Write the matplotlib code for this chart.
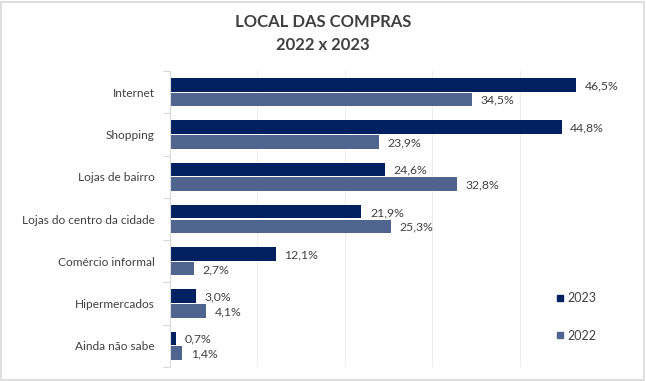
import matplotlib
matplotlib.use("Agg")
import matplotlib.pyplot as plt
from matplotlib.lines import Line2D
from matplotlib.patches import Rectangle
import numpy as np

plt.rcParams["font.family"] = ["Lato", "DejaVu Sans"]

categories = [
    "Internet",
    "Shopping",
    "Lojas de bairro",
    "Lojas do centro da cidade",
    "Comércio informal",
    "Hipermercados",
    "Ainda não sabe",
]
values_2023 = [46.5, 44.8, 24.6, 21.9, 12.1, 3.0, 0.7]
values_2022 = [34.5, 23.9, 32.8, 25.3, 2.7, 4.1, 1.4]

color_2023 = "#002060"
color_2022 = "#4f6590"
text_color = "#404040"

fig = plt.figure(figsize=(6.46, 3.81), dpi=100)
W, H = 646, 381
ax = fig.add_axes([170 / W, 1 - 367 / H, (607 - 170) / W, (367 - 71) / H])

y = np.arange(len(categories))
h = 0.32
off = 0.175
ax.barh(y - off, values_2023, height=h, color=color_2023, label="2023")
ax.barh(y + off, values_2022, height=h, color=color_2022, label="2022")

def fmt(v):
    return f"{v:.1f}%".replace(".", ",")

for yi, v in zip(y, values_2023):
    ax.text(v + 1.0, yi - off + 0.02, fmt(v), va="center", ha="left", fontsize=8.8, color=text_color)
for yi, v in zip(y, values_2022):
    ax.text(v + 1.0, yi + off + 0.02, fmt(v), va="center", ha="left", fontsize=8.8, color=text_color)

ax.set_xlim(0, 50)
ax.set_ylim(len(categories) - 0.5, -0.5)
ax.set_xticks([10, 20, 30, 40, 50])
ax.xaxis.grid(True, color="#ededed", linewidth=0.8)
ax.set_axisbelow(True)
ax.tick_params(axis="x", length=0, labelbottom=False)

ax.set_yticks(y)
ax.set_yticklabels(categories, fontsize=8.6, color=text_color)
ax.tick_params(axis="y", which="major", length=0, pad=11)
ax.set_yticks(np.arange(-0.5, len(categories), 1.0), minor=True)
ax.tick_params(axis="y", which="minor", length=5, color="#d9d9d9", width=0.8)

for s in ["top", "right", "bottom"]:
    ax.spines[s].set_visible(False)
ax.spines["left"].set_color("#d9d9d9")
ax.spines["left"].set_linewidth(0.8)

fig.text(0.5, 1 - 22 / H, "LOCAL DAS COMPRAS", ha="center", va="center",
         fontsize=12, fontweight="bold", color=text_color)
fig.text(0.5, 1 - 45 / H, "2022 x 2023", ha="center", va="center",
         fontsize=12, fontweight="bold", color=text_color)

handles = [
    Line2D([], [], marker="s", linestyle="none", markersize=5, color=color_2023, label="2023"),
    Line2D([], [], marker="s", linestyle="none", markersize=5, color=color_2022, label="2022"),
]
leg = fig.legend(handles=handles, loc="center left", bbox_to_anchor=(542 / W, 1 - 317 / H),
                 frameon=False, fontsize=9, labelspacing=2.0, handletextpad=0.1,
                 handlelength=1.0, labelcolor=text_color)

fig.patches.append(Rectangle((0.002, 0.003), 0.995, 0.993, transform=fig.transFigure,
                             fill=False, edgecolor="#d9d9d9", linewidth=1.2))

fig.savefig("out.png", dpi=100, facecolor="white")
